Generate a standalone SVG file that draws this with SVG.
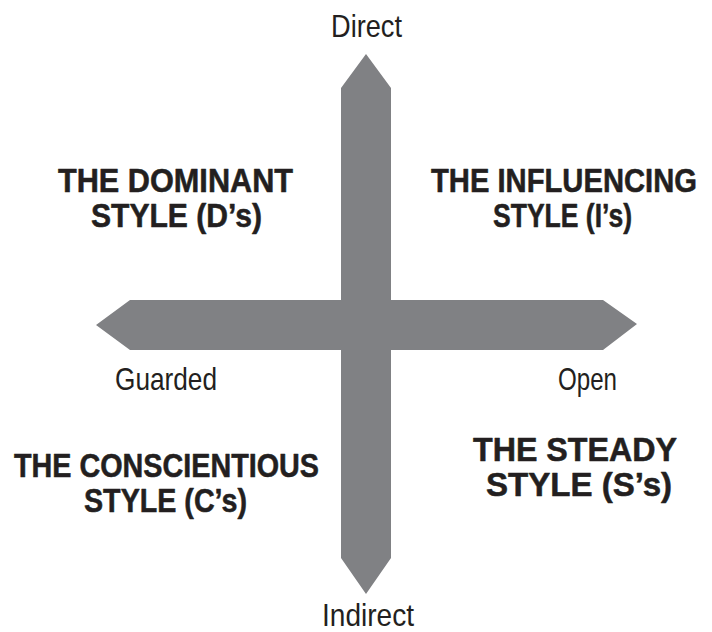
<svg xmlns="http://www.w3.org/2000/svg" width="712" height="632" viewBox="0 0 712 632">
<style>
.bar{fill:#808184;stroke:none}
.axis{font-family:"Liberation Sans","DejaVu Sans",sans-serif;font-size:32px;fill:#231f20}
.head{font-family:"Liberation Sans","DejaVu Sans",sans-serif;font-size:34px;font-weight:bold;fill:#231f20;stroke:#231f20;stroke-width:0.55px;stroke-linejoin:round}
</style>
<rect width="712" height="632" fill="#ffffff"/>
<g id="connectors">
<path class="bar" d="M366,54 L391,88 L391,300 L603,300 L637,324 L603,350 L391,350 L391,558 L366,594 L341,558 L341,350 L130,350 L96,325 L130,300 L341,300 L341,88 Z"/>
</g>
<g id="direct"><text class="axis" x="331" y="37" textLength="71" lengthAdjust="spacingAndGlyphs">Direct</text></g>
<g id="indirect"><text class="axis" x="322" y="626" textLength="92" lengthAdjust="spacingAndGlyphs">Indirect</text></g>
<g id="guarded"><text class="axis" x="115" y="390" textLength="102" lengthAdjust="spacingAndGlyphs">Guarded</text></g>
<g id="open"><text class="axis" x="558" y="390" textLength="59" lengthAdjust="spacingAndGlyphs">Open</text></g>
<g id="dominant">
<text class="head" transform="translate(58,192) scale(0.86,1)" textLength="273.3" lengthAdjust="spacingAndGlyphs">THE DOMINANT</text>
<text class="head" transform="translate(91,227) scale(0.86,1)" textLength="198.8" lengthAdjust="spacingAndGlyphs">STYLE (D’s)</text>
</g>
<g id="influencing">
<text class="head" transform="translate(431,192) scale(0.86,1)" textLength="309.3" lengthAdjust="spacingAndGlyphs">THE INFLUENCING</text>
<text class="head" transform="translate(493,227) scale(0.86,1)" textLength="161.6" lengthAdjust="spacingAndGlyphs">STYLE (I’s)</text>
</g>
<g id="conscientious">
<text class="head" transform="translate(14,477) scale(0.86,1)" textLength="354.7" lengthAdjust="spacingAndGlyphs">THE CONSCIENTIOUS</text>
<text class="head" transform="translate(84,512) scale(0.86,1)" textLength="189.5" lengthAdjust="spacingAndGlyphs">STYLE (C’s)</text>
</g>
<g id="steady">
<text class="head" transform="translate(473,461) scale(0.86,1)" textLength="237.2" lengthAdjust="spacingAndGlyphs">THE STEADY</text>
<text class="head" transform="translate(486,496) scale(0.86,1)" textLength="216.3" lengthAdjust="spacingAndGlyphs">STYLE (S’s)</text>
</g>
</svg>
